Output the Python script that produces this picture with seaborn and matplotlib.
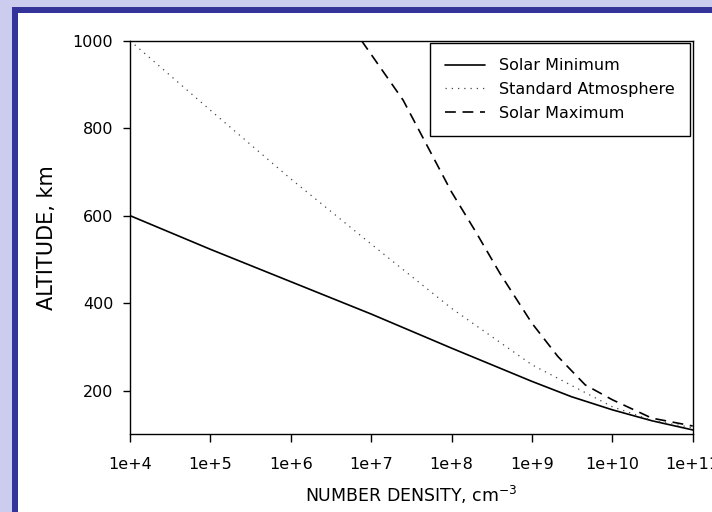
import matplotlib
matplotlib.use("Agg")
import matplotlib.pyplot as plt
import matplotlib.patches as mpatches
import matplotlib.ticker as mticker
import seaborn as sns
import numpy as np

# ---- data ----
series_names = ["Solar Minimum", "Standard Atmosphere", "Solar Maximum"]

density_min = [1e4, 1e5, 1e6, 1e7, 1e8, 1e9, 3.1e9, 1e10, 3.1e10, 1e11]
alt_min = [600, 523, 449, 375, 297, 221, 186, 156, 131, 110]

density_std = [1e4, 1e5, 1e6, 1e7, 1e8, 1e9, 1e10, 3.1e10, 1e11]
alt_std = [1000, 841, 684, 535, 388, 259, 163, 132, 115]

density_max = [7.6e6, 2.5e7, 1e8, 2e8, 4e8, 1e9, 2.1e9, 4.6e9, 1e10, 3.1e10, 1e11]
alt_max = [1000, 864, 654, 563, 468, 354, 278, 213, 179, 137, 119]

x_ticks = [1e4, 1e5, 1e6, 1e7, 1e8, 1e9, 1e10, 1e11]
x_tick_labels = ["1e+4", "1e+5", "1e+6", "1e+7", "1e+8", "1e+9", "1e+10", "1e+11"]
y_ticks = [200, 400, 600, 800, 1000]

# ---- styling ----
sns.set_style("white")
plt.rcParams["font.family"] = ["DejaVu Sans"]
plt.rcParams["mathtext.fontset"] = "dejavusans"

W, H = 712, 512
fig = plt.figure(figsize=(W / 100, H / 100), dpi=100)
fig.patch.set_facecolor("#ccccee")

# blue frame and white panel (behind the axes)
fig.patches.append(mpatches.Rectangle((12 / W, 0), 1, (H - 7) / H, transform=fig.transFigure,
                                      facecolor="#333399", edgecolor="none", zorder=-10))
fig.patches.append(mpatches.Rectangle((17.5 / W, 0), 1, (H - 12.5) / H, transform=fig.transFigure,
                                      facecolor="white", edgecolor="none", zorder=-9))

left, right = 130 / W, 692.7 / W
bottom, top = 1 - 434.3 / H, 1 - 40.7 / H
ax = fig.add_axes([left, bottom, right - left, top - bottom])
ax.set_facecolor("white")

sns.lineplot(x=density_min, y=alt_min, ax=ax, color="black", linewidth=1.2,
             label=series_names[0], sort=False)
sns.lineplot(x=density_std, y=alt_std, ax=ax, color="#444444", linewidth=0.9,
             linestyle=(0, (1, 4)), label=series_names[1], sort=False)
sns.lineplot(x=density_max, y=alt_max, ax=ax, color="black", linewidth=1.2,
             linestyle=(0, (6.5, 4)), label=series_names[2], sort=False)

ax.set_xscale("log")
ax.set_xlim(1e4, 1e11)
ax.set_ylim(100, 1000)
ax.set_xticks(x_ticks)
ax.set_xticklabels(x_tick_labels)
ax.xaxis.set_minor_locator(mticker.NullLocator())
ax.set_yticks(y_ticks)
ax.set_yticklabels([str(v) for v in y_ticks])

for s in ax.spines.values():
    s.set_color("black")
    s.set_linewidth(1.0)

ax.tick_params(axis="x", which="major", direction="out", length=6, width=1.0,
               pad=10, labelsize=11.5, colors="black", bottom=True, top=False)
ax.tick_params(axis="y", which="major", direction="out", length=5, width=1.0,
               pad=7, labelsize=11.5, colors="black", left=True, right=False)

ax.set_xlabel("NUMBER DENSITY, cm$^{-3}$", fontsize=12.5, labelpad=9, color="black")
ax.set_ylabel("ALTITUDE, km", fontsize=15, labelpad=11, color="black")

leg = ax.legend(loc="upper right", bbox_to_anchor=(1.0, 1.0), borderaxespad=0.15,
                frameon=True, fancybox=False, edgecolor="black", framealpha=1,
                fontsize=11.5, borderpad=0.95, labelspacing=0.55,
                handlelength=2.5, handletextpad=0.9, labelcolor="black")
leg.get_frame().set_linewidth(1.0)

fig.savefig("out.png", dpi=100, facecolor=fig.get_facecolor())
